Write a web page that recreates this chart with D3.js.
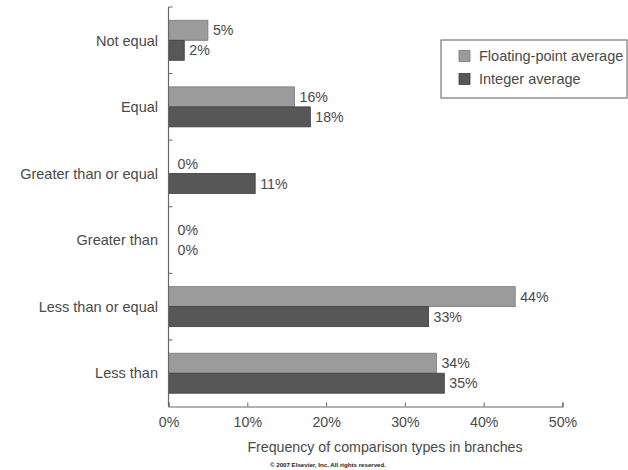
<!DOCTYPE html>
<html>
<head>
<meta charset="utf-8">
<script src="https://cdn.jsdelivr.net/npm/d3@7"></script>
<style>
  body { margin: 0; background: #fff; }
  text { font-family: "Liberation Sans", Arial, sans-serif; fill: #4a4a4a; }
</style>
</head>
<body>
<div id="chart"></div>
<script>
var categories = ["Not equal", "Equal", "Greater than or equal", "Greater than", "Less than or equal", "Less than"];
var seriesNames = ["Floating-point average", "Integer average"];
var floatValues = [5, 16, 0, 0, 44, 34];
var intValues = [2, 18, 11, 0, 33, 35];
var xTicks = [0, 10, 20, 30, 40, 50];
var colors = ["#9b9b9b", "#575757"];
var strokes = ["#7a7a7a", "#3e3e3e"];

function init() {
    var w = 628;
    var h = 470;
    var fs = 14.2;

    var svg = d3.select("#chart")
        .append("svg")
        .attr("width", w)
        .attr("height", h);

    var xScale = d3.scaleLinear()
        .domain([0, 50])
        .range([168.5, 562.5]);

    var yScale = d3.scaleBand()
        .domain(categories)
        .range([7, 406.5]);

    var groupH = 40;
    var ySub = d3.scaleBand()
        .domain(seriesNames)
        .range([(yScale.bandwidth() - groupH) / 2, (yScale.bandwidth() + groupH) / 2]);

    var rows = categories.map(function(c, i) {
        return { cat: c, values: [floatValues[i], intValues[i]] };
    });

    // bars
    var groups = svg.selectAll("g.cat")
        .data(rows)
        .enter()
        .append("g")
        .attr("class", "cat")
        .attr("transform", function(d) { return "translate(0," + yScale(d.cat) + ")"; });

    groups.selectAll("rect")
        .data(function(d) {
            return d.values.map(function(v, j) { return { s: seriesNames[j], v: v, j: j }; });
        })
        .enter()
        .append("rect")
        .filter(function(d) { return d.v > 0; })
        .attr("x", xScale(0))
        .attr("y", function(d) { return ySub(d.s); })
        .attr("width", function(d) { return xScale(d.v) - xScale(0); })
        .attr("height", ySub.bandwidth())
        .attr("fill", function(d) { return colors[d.j]; })
        .attr("stroke", function(d) { return strokes[d.j]; })
        .attr("stroke-width", 0.8);

    groups.selectAll("text.val")
        .data(function(d) {
            return d.values.map(function(v, j) { return { s: seriesNames[j], v: v, j: j }; });
        })
        .enter()
        .append("text")
        .attr("class", "val")
        .attr("x", function(d) { return xScale(d.v) + (d.v > 0 ? 5 : 9); })
        .attr("y", function(d) { return ySub(d.s) + ySub.bandwidth() / 2; })
        .attr("dy", "0.36em")
        .attr("font-size", fs)
        .text(function(d) { return d.v + "%"; });

    // category labels
    svg.selectAll("text.cat")
        .data(categories)
        .enter()
        .append("text")
        .attr("class", "cat")
        .attr("x", 158)
        .attr("y", function(d) { return yScale(d) + yScale.bandwidth() / 2; })
        .attr("dy", "0.36em")
        .attr("text-anchor", "end")
        .attr("font-size", 14.5)
        .text(function(d) { return d; });

    // y axis line with inward ticks between categories
    var axisColor = "#666";
    svg.append("line")
        .attr("x1", xScale(0)).attr("x2", xScale(0))
        .attr("y1", yScale.range()[0]).attr("y2", yScale.range()[1])
        .attr("stroke", axisColor).attr("stroke-width", 1.2);

    var bounds = categories.map(function(c) { return yScale(c); });
    svg.selectAll("line.ytick")
        .data(bounds)
        .enter()
        .append("line")
        .attr("class", "ytick")
        .attr("x1", xScale(0)).attr("x2", xScale(0) + 4)
        .attr("y1", function(d) { return d; }).attr("y2", function(d) { return d; })
        .attr("stroke", axisColor).attr("stroke-width", 1);

    // x axis
    var xAxis = d3.axisBottom(xScale)
        .tickValues(xTicks)
        .tickSize(-4)
        .tickPadding(10)
        .tickFormat(function(d) { return d + "%"; });

    var gx = svg.append("g")
        .attr("transform", "translate(0," + yScale.range()[1] + ")")
        .call(xAxis);
    gx.select(".domain").attr("stroke", axisColor).attr("stroke-width", 1.2);
    gx.selectAll(".tick line").attr("stroke", axisColor);
    gx.selectAll(".tick text")
        .attr("font-size", fs)
        .attr("font-family", "Liberation Sans, Arial, sans-serif")
        .attr("fill", "#4a4a4a");

    svg.append("text")
        .attr("x", 385)
        .attr("y", 447)
        .attr("dy", "0.36em")
        .attr("text-anchor", "middle")
        .attr("font-size", fs)
        .text("Frequency of comparison types in branches");

    svg.append("text")
        .attr("x", 328)
        .attr("y", 467)
        .attr("text-anchor", "middle")
        .attr("font-size", 5)
        .attr("font-weight", "bold")
        .attr("textLength", 116)
        .attr("lengthAdjust", "spacingAndGlyphs")
        .style("fill", "#222")
        .text("\u00a9 2007 Elsevier, Inc. All rights reserved.");

    // legend
    var legend = svg.append("g").attr("transform", "translate(441,40)");
    legend.append("rect")
        .attr("x", 0).attr("y", 0)
        .attr("width", 186).attr("height", 58)
        .attr("fill", "#fff")
        .attr("stroke", "#777").attr("stroke-width", 1.2);

    seriesNames.forEach(function(s, i) {
        var cy = 16 + i * 23;
        legend.append("rect")
            .attr("x", 18).attr("y", cy - 5.5)
            .attr("width", 11).attr("height", 11)
            .attr("fill", colors[i])
            .attr("stroke", strokes[i]).attr("stroke-width", 0.8);
        legend.append("text")
            .attr("x", 38).attr("y", cy)
            .attr("dy", "0.36em")
            .attr("font-size", 14.5)
            .text(s);
    });
}

window.onload = init;
</script>
</body>
</html>
